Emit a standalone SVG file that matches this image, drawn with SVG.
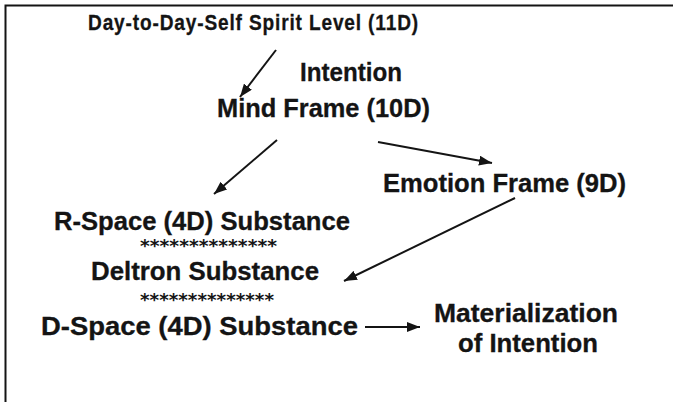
<svg xmlns="http://www.w3.org/2000/svg" width="673" height="402" viewBox="0 0 673 402">
<style>
.t{font-family:"Liberation Sans",Arial,sans-serif;font-weight:bold;fill:#141414;stroke:#141414;stroke-width:0.3}
.s{font-family:"DejaVu Sans",sans-serif;font-weight:bold;fill:#141414;font-size:18px}
.c{stroke:#141414;stroke-width:2;fill:none}
</style>
<defs>
<marker id="ah" markerUnits="userSpaceOnUse" markerWidth="14" markerHeight="10" refX="13" refY="5" orient="auto">
<path d="M0,0 L13,5 L0,10 z" fill="#141414"/>
</marker>
</defs>
<rect width="673" height="402" fill="#ffffff"/>
<g id="frame">
<path class="c" d="M5.5,402 V5.5 H673"/>
</g>
<g id="spirit"><text class="t" x="88" y="30" font-size="22.5" letter-spacing="1" textLength="331" lengthAdjust="spacingAndGlyphs">Day-to-Day-Self Spirit Level (11D)</text></g>
<g id="intention"><text class="t" x="300" y="81" font-size="25" textLength="102" lengthAdjust="spacingAndGlyphs">Intention</text></g>
<g id="mind"><text class="t" x="217" y="117" font-size="25" textLength="213" lengthAdjust="spacingAndGlyphs">Mind Frame (10D)</text></g>
<g id="emotion"><text class="t" x="383" y="192" font-size="25" textLength="243" lengthAdjust="spacingAndGlyphs">Emotion Frame (9D)</text></g>
<g id="rspace"><text class="t" x="54" y="230" font-size="25" textLength="296" lengthAdjust="spacingAndGlyphs">R-Space (4D) Substance</text>
<text class="s" x="140" y="252" textLength="137" lengthAdjust="spacingAndGlyphs">**************</text></g>
<g id="deltron"><text class="t" x="91" y="280" font-size="25" textLength="228" lengthAdjust="spacingAndGlyphs">Deltron Substance</text>
<text class="s" x="140" y="306" textLength="134" lengthAdjust="spacingAndGlyphs">**************</text></g>
<g id="dspace"><text class="t" x="41" y="335" font-size="25" textLength="317" lengthAdjust="spacingAndGlyphs">D-Space (4D) Substance</text></g>
<g id="materialization"><text class="t" x="434" y="322" font-size="25" textLength="184" lengthAdjust="spacingAndGlyphs">Materialization</text>
<text class="t" x="458" y="352" font-size="25" textLength="140" lengthAdjust="spacingAndGlyphs">of Intention</text></g>
<g id="connectors">
<line class="c" x1="276" y1="50" x2="240" y2="97" marker-end="url(#ah)"/>
<line class="c" x1="277" y1="140" x2="214" y2="194" marker-end="url(#ah)"/>
<line class="c" x1="378" y1="142" x2="492" y2="163" marker-end="url(#ah)"/>
<line class="c" x1="515" y1="198" x2="344" y2="281" marker-end="url(#ah)"/>
<line class="c" x1="365" y1="327" x2="420" y2="327" marker-end="url(#ah)"/>
</g>
</svg>
